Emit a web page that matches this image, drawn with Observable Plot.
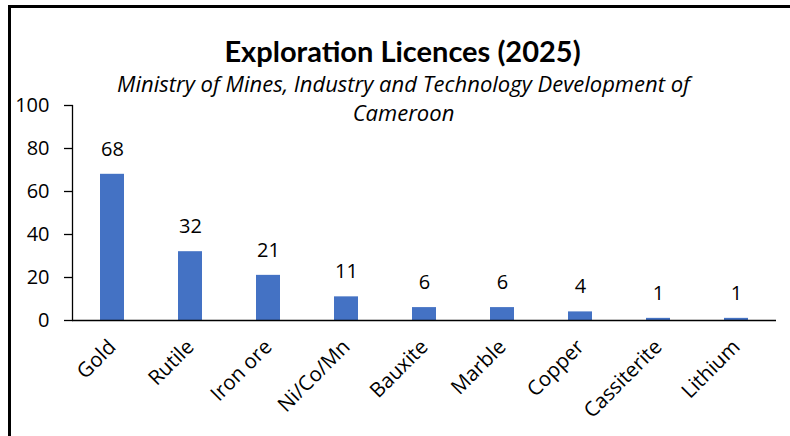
<!DOCTYPE html>
<html>
<head>
<meta charset="utf-8">
<script src="https://cdn.jsdelivr.net/npm/d3@7"></script>
<script src="https://cdn.jsdelivr.net/npm/@observablehq/plot@0.6"></script>
<style>
  html, body { margin: 0; padding: 0; background: #fff; }
  #wrap { position: relative; width: 790px; height: 436px; overflow: hidden; }
  #border { position: absolute; left: 8px; top: 5px; width: 900px; height: 600px;
            border-top: 3px solid #000; border-left: 3px solid #000; box-sizing: border-box; }
  #chart { position: absolute; left: 0; top: 0; }
</style>
</head>
<body>
<div id="wrap"><div id="border"></div><div id="chart"></div></div>
<script>
const categories = ["Gold", "Rutile", "Iron ore", "Ni/Co/Mn", "Bauxite", "Marble", "Copper", "Cassiterite", "Lithium"];
const values = [68, 32, 21, 11, 6, 6, 4, 1, 1];
const yTicks = [0, 20, 40, 60, 80, 100];
const title = "Exploration Licences (2025)";
const subtitle1 = "Ministry of Mines, Industry and Technology Development of";
const subtitle2 = "Cameroon";

const data = categories.map((c, i) => ({category: c, value: values[i]}));
const font = "'Open Sans', sans-serif";

const chart = Plot.plot({
  width: 790,
  height: 436,
  marginLeft: 72,
  marginRight: 14,
  marginTop: 105,
  marginBottom: 116,
  style: {fontFamily: font, color: "#000", background: "transparent", overflow: "visible"},
  x: {domain: categories, paddingInner: 0.69, paddingOuter: 0.345, label: null},
  y: {domain: [0, 100], label: null},
  marks: [
    Plot.barY(data, {x: "category", y: "value", fill: "#4472C4"}),
    Plot.ruleY([0], {stroke: "#000", strokeWidth: 1.3}),
    Plot.frame({anchor: "left", stroke: "#000", strokeWidth: 1.3}),
    Plot.axisY({ticks: yTicks, tickSize: 8, tickPadding: 15, fontSize: 20, label: null, stroke: "#000", strokeWidth: 1.3}),
    Plot.axisX({tickSize: 0, tickRotate: -45, tickPadding: 23, fontSize: 20.5, label: null}),
    Plot.text(data, {x: "category", y: "value", text: d => String(d.value), dy: -25, fontSize: 20, fill: "#000"}),
    Plot.text([title], {frameAnchor: "top", dx: -22, dy: -64, fontSize: 29, fontWeight: "bold", fontFamily: "Lato, sans-serif", fill: "#000"}),
    Plot.text([subtitle1], {frameAnchor: "top", dx: -21, dy: -29, fontSize: 22, fontStyle: "italic", fill: "#000"}),
    Plot.text([subtitle2], {frameAnchor: "top", dx: -21, dy: 0, fontSize: 22, fontStyle: "italic", fill: "#000"})
  ]
});
document.getElementById("chart").appendChild(chart);
</script>
</body>
</html>
